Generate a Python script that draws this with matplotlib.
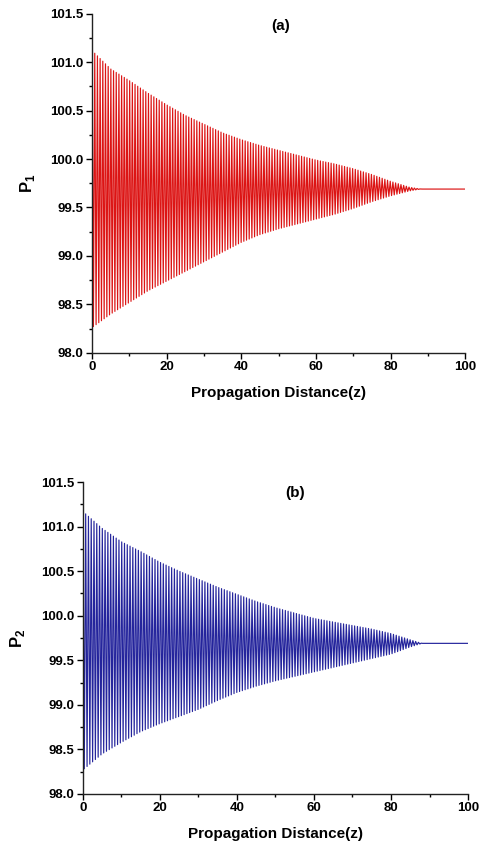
import numpy as np
import matplotlib
matplotlib.use("Agg")
import matplotlib.pyplot as plt
from matplotlib.ticker import MultipleLocator

plt.rcParams['font.family'] = ['Liberation Sans Narrow', 'Liberation Sans', 'DejaVu Sans']
plt.rcParams['font.weight'] = 'bold'
plt.rcParams['mathtext.fontset'] = 'custom'
plt.rcParams['mathtext.rm'] = 'Liberation Sans:bold'
plt.rcParams['mathtext.bf'] = 'Liberation Sans:bold'

# envelope of the oscillation
z_env = [0, 5, 10, 15, 20, 25, 30, 35, 40, 45, 50, 55, 60, 65, 70, 75, 80, 85, 88, 100]
upper_a = [101.12, 100.93, 100.81, 100.68, 100.56, 100.45, 100.36, 100.27, 100.20, 100.14,
           100.09, 100.04, 99.99, 99.95, 99.90, 99.84, 99.77, 99.71, 99.69, 99.69]
lower_a = [98.26, 98.40, 98.52, 98.64, 98.74, 98.84, 98.94, 99.04, 99.14, 99.22,
           99.28, 99.33, 99.38, 99.43, 99.49, 99.56, 99.62, 99.67, 99.69, 99.69]
upper_b = [101.17, 100.98, 100.83, 100.72, 100.60, 100.50, 100.41, 100.32, 100.24, 100.16,
           100.09, 100.03, 99.97, 99.93, 99.89, 99.85, 99.80, 99.73, 99.69, 99.69]
lower_b = [98.27, 98.45, 98.58, 98.70, 98.79, 98.87, 98.95, 99.05, 99.14, 99.21,
           99.27, 99.32, 99.37, 99.42, 99.47, 99.52, 99.57, 99.65, 99.69, 99.69]
half_period = 0.36  # distance between a maximum and the next minimum

x_ticks = [0, 20, 40, 60, 80, 100]
y_ticks = [98.0, 98.5, 99.0, 99.5, 100.0, 100.5, 101.0, 101.5]


def zigzag(up, lo):
    zp = np.arange(0, 100 + half_period, half_period)
    hi = np.interp(zp, z_env, up)
    lw = np.interp(zp, z_env, lo)
    yp = np.where(np.arange(len(zp)) % 2 == 0, hi, lw)
    return zp, yp


def setup(ax, ylab, tag, tag_xy):
    ax.set_xlim(0, 100)
    ax.set_ylim(98.0, 101.5)
    ax.set_xticks(x_ticks)
    ax.set_yticks(y_ticks)
    ax.set_yticklabels(['%.1f' % v for v in y_ticks])
    ax.xaxis.set_minor_locator(MultipleLocator(10))
    ax.yaxis.set_minor_locator(MultipleLocator(0.25))
    for s in ['top', 'right']:
        ax.spines[s].set_visible(False)
    for s in ['left', 'bottom']:
        ax.spines[s].set_linewidth(1.0)
        ax.spines[s].set_color('#222222')
    ax.tick_params(which='major', length=4, width=1, labelsize=9.5, pad=2)
    ax.tick_params(which='minor', length=2.5, width=1)
    ax.set_xlabel('Propagation Distance(z)', fontsize=11, fontweight='bold', labelpad=9)
    ax.set_ylabel(ylab, fontsize=12, labelpad=10)
    ax.text(tag_xy[0], tag_xy[1], tag, fontsize=11, fontweight='bold', ha='center', va='center')


fig = plt.figure(figsize=(4.82, 8.5), dpi=100)

ax1 = fig.add_axes([0.191, 0.585, 0.774, 0.3988])
z, p = zigzag(upper_a, lower_a)
ax1.plot(z, p, color='#dc1414', lw=0.85)
setup(ax1, r'$\mathbf{P}_{\mathbf{1}}$', '(a)', (50.5, 101.37))

ax2 = fig.add_axes([0.172, 0.0659, 0.799, 0.367])
z, p = zigzag(upper_b, lower_b)
ax2.plot(z, p, color='#24249c', lw=0.85)
setup(ax2, r'$\mathbf{P}_{\mathbf{2}}$', '(b)', (55, 101.38))

fig.savefig('out.png', dpi=100)
